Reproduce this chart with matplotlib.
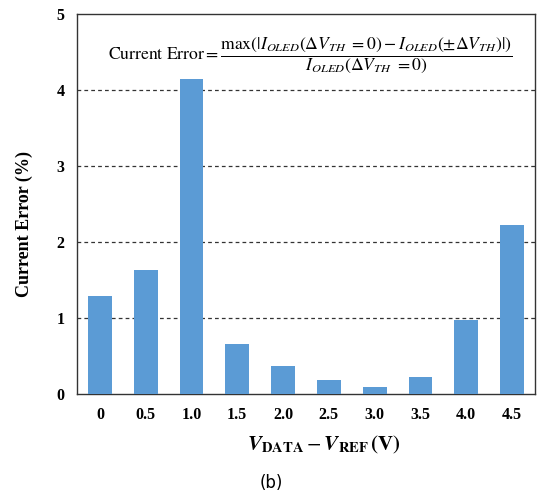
import numpy as np
import matplotlib
matplotlib.use("Agg")
import matplotlib.pyplot as plt

plt.rcParams['font.family'] = 'Liberation Serif'
plt.rcParams['mathtext.fontset'] = 'stix'

# data
vdiff_labels = ['0', '0.5', '1.0', '1.5', '2.0', '2.5', '3.0', '3.5', '4.0', '4.5']
current_error = [1.285, 1.63, 4.14, 0.66, 0.37, 0.19, 0.09, 0.23, 0.97, 2.22]
y_ticks = [0, 1, 2, 3, 4, 5]

fig = plt.figure(figsize=(5.4, 4.97), dpi=100)
ax = fig.add_axes([0.1426, 0.2072, 0.848, 0.7646])

x = np.arange(len(vdiff_labels))
ax.bar(x, current_error, width=0.52, color='#5B9BD5', zorder=3)

ax.set_xlim(-0.5, len(vdiff_labels) - 0.5)
ax.set_ylim(0, 5)
ax.set_yticks(y_ticks)
ax.set_xticks(x)
ax.set_xticklabels(vdiff_labels)
for g in y_ticks[1:-1]:
    ax.axhline(g, color='#333333', lw=0.9, ls=(0, (3, 2.5)), zorder=1)

ax.tick_params(length=0, labelsize=11.5, pad=9)
for lab in ax.get_xticklabels() + ax.get_yticklabels():
    lab.set_fontweight('bold')
for s in ax.spines.values():
    s.set_color('#333333')
    s.set_linewidth(1.0)

ax.set_ylabel('Current Error (%)', fontsize=13, fontweight='bold')
ax.yaxis.set_label_coords(-0.097, 0.447)

formula = (r'$\mathrm{Current\ Error} = '
           r'\dfrac{\mathrm{max}(|I_{OLED}(\Delta V_{TH}\ =0) - I_{OLED}(\pm\Delta V_{TH})|)}'
           r'{I_{OLED}(\Delta V_{TH}\ =0)}$')
ax.text(0.51, 0.892, formula, transform=ax.transAxes, ha='center', va='center', fontsize=12.7)

fig.text(0.6, 0.105, r'$\mathbfit{V}_{\mathbf{DATA}} - \mathbfit{V}_{\mathbf{REF}}\,\mathbf{(V)}$',
         ha='center', va='center', fontsize=15)
fig.text(0.503, 0.028, '(b)', family='DejaVu Sans', ha='center', va='center', fontsize=12)

fig.savefig('out.png', dpi=100)
